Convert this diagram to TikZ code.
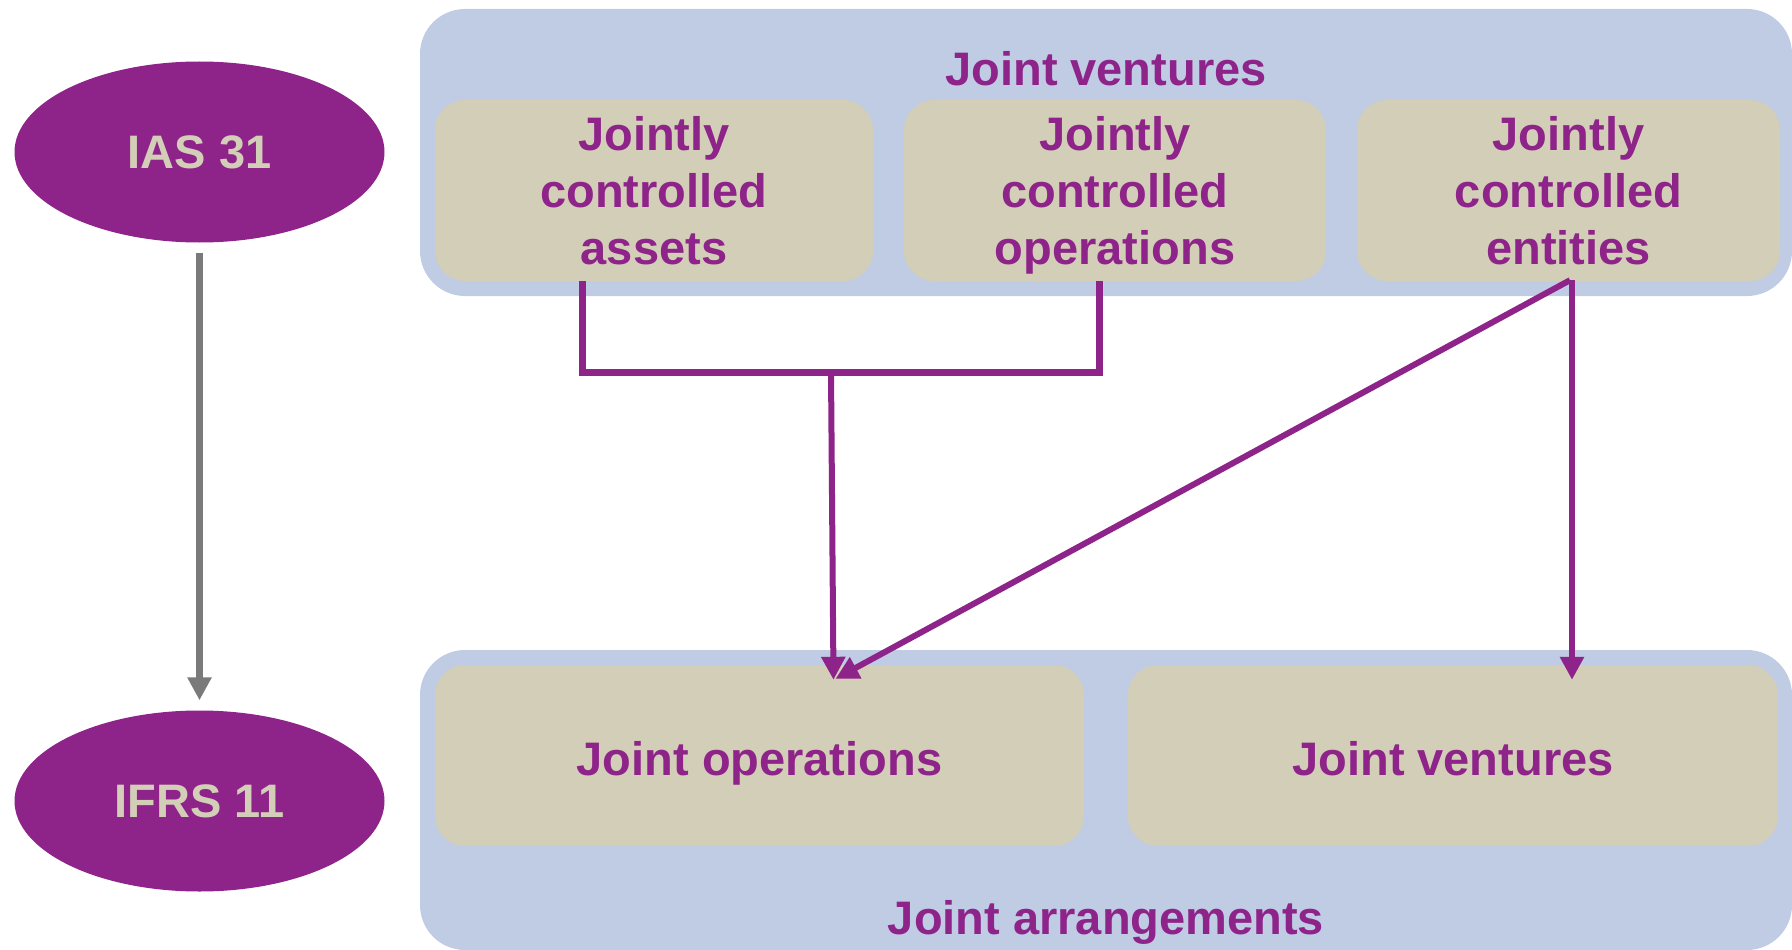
\documentclass[tikz,border=0pt]{standalone}
\usepackage{fontspec}
\setmainfont{Liberation Sans}
\usetikzlibrary{arrows.meta,shapes.geometric}
\definecolor{jpurple}{HTML}{8E2389}
\definecolor{jblue}{HTML}{BFCCE4}
\definecolor{jtan}{HTML}{D3CEB8}
\definecolor{jgray}{HTML}{7A7A7A}
\tikzset{
  panel/.style={fill=jblue, draw=none, rounded corners=45pt, inner sep=0pt},
  tanbox/.style={fill=jtan, draw=none, rounded corners=30pt, inner sep=0pt, minimum height=181pt,
    align=center, text=jpurple, text depth=0pt, font={\fontsize{47}{57}\selectfont\bfseries}},
  stdell/.style={ellipse, fill=jpurple, draw=none, inner sep=0pt, minimum width=370pt, minimum height=181pt,
    text=jtan, font={\fontsize{47}{57}\selectfont\bfseries}},
  ttl/.style={text=jpurple, font={\fontsize{47}{57}\selectfont\bfseries}, inner sep=0pt},
  pline/.style={draw=jpurple, line width=7pt, line join=miter},
  parrow/.style={draw=jpurple, line width=6pt, -{Triangle[length=23pt,width=23pt]}},
  garrow/.style={draw=jgray, line width=7.5pt, -{Triangle[length=23pt,width=23pt]}}
}
\begin{document}
\begin{tikzpicture}[x=1pt,y=-1pt]
\useasboundingbox (0,0) rectangle (1792,950);
% panels
\node[panel, minimum width=1372pt, minimum height=287pt] (tp) at (1106,152.5) {};
\node[panel, minimum width=1372pt, minimum height=300pt] (bp) at (1106,800) {};
% titles
\node[ttl, anchor=base] (tpt) at (1106,85) {Joint ventures};
\node[ttl, anchor=base] (bpt) at (1106,934) {Joint arrangements};
% top boxes
\node[tanbox, minimum width=438pt] (b1) at (654,190.5) {Jointly\\controlled\\assets};
\node[tanbox, minimum width=422pt] (b2) at (1115,190.5) {Jointly\\controlled\\operations};
\node[tanbox, minimum width=423pt] (b3) at (1568.5,190.5) {Jointly\\controlled\\entities};
% bottom boxes
\node[tanbox, text height=39pt, minimum width=649pt] (o1) at (759.5,755.5) {Joint operations};
\node[tanbox, text height=39pt, minimum width=650pt] (v2) at (1453,755.5) {Joint ventures};
% ellipses
\node[stdell] (ias) at (199.5,152) {IAS 31};
\node[stdell] (ifrs) at (199.5,801) {IFRS 11};
% gray arrow
\draw[garrow] ([yshift=-10pt]ias.south) -- ([yshift=10pt]ifrs.north);
% bracket
\coordinate (bj) at (831,372);
\draw[pline] ([xshift=-72pt]b1.south) -- ++(0,91) -| ([xshift=-16pt]b2.south);
\draw[parrow] (bj) -- ([xshift=74pt,yshift=-15pt]o1.north);
\draw[parrow] ([xshift=1.5pt,yshift=1pt]b3.south) -- ([xshift=76pt,yshift=-14pt]o1.north);
\draw[parrow] ([xshift=3.5pt,yshift=1pt]b3.south) -- ([xshift=119pt,yshift=-15pt]v2.north);
\end{tikzpicture}
\end{document}
